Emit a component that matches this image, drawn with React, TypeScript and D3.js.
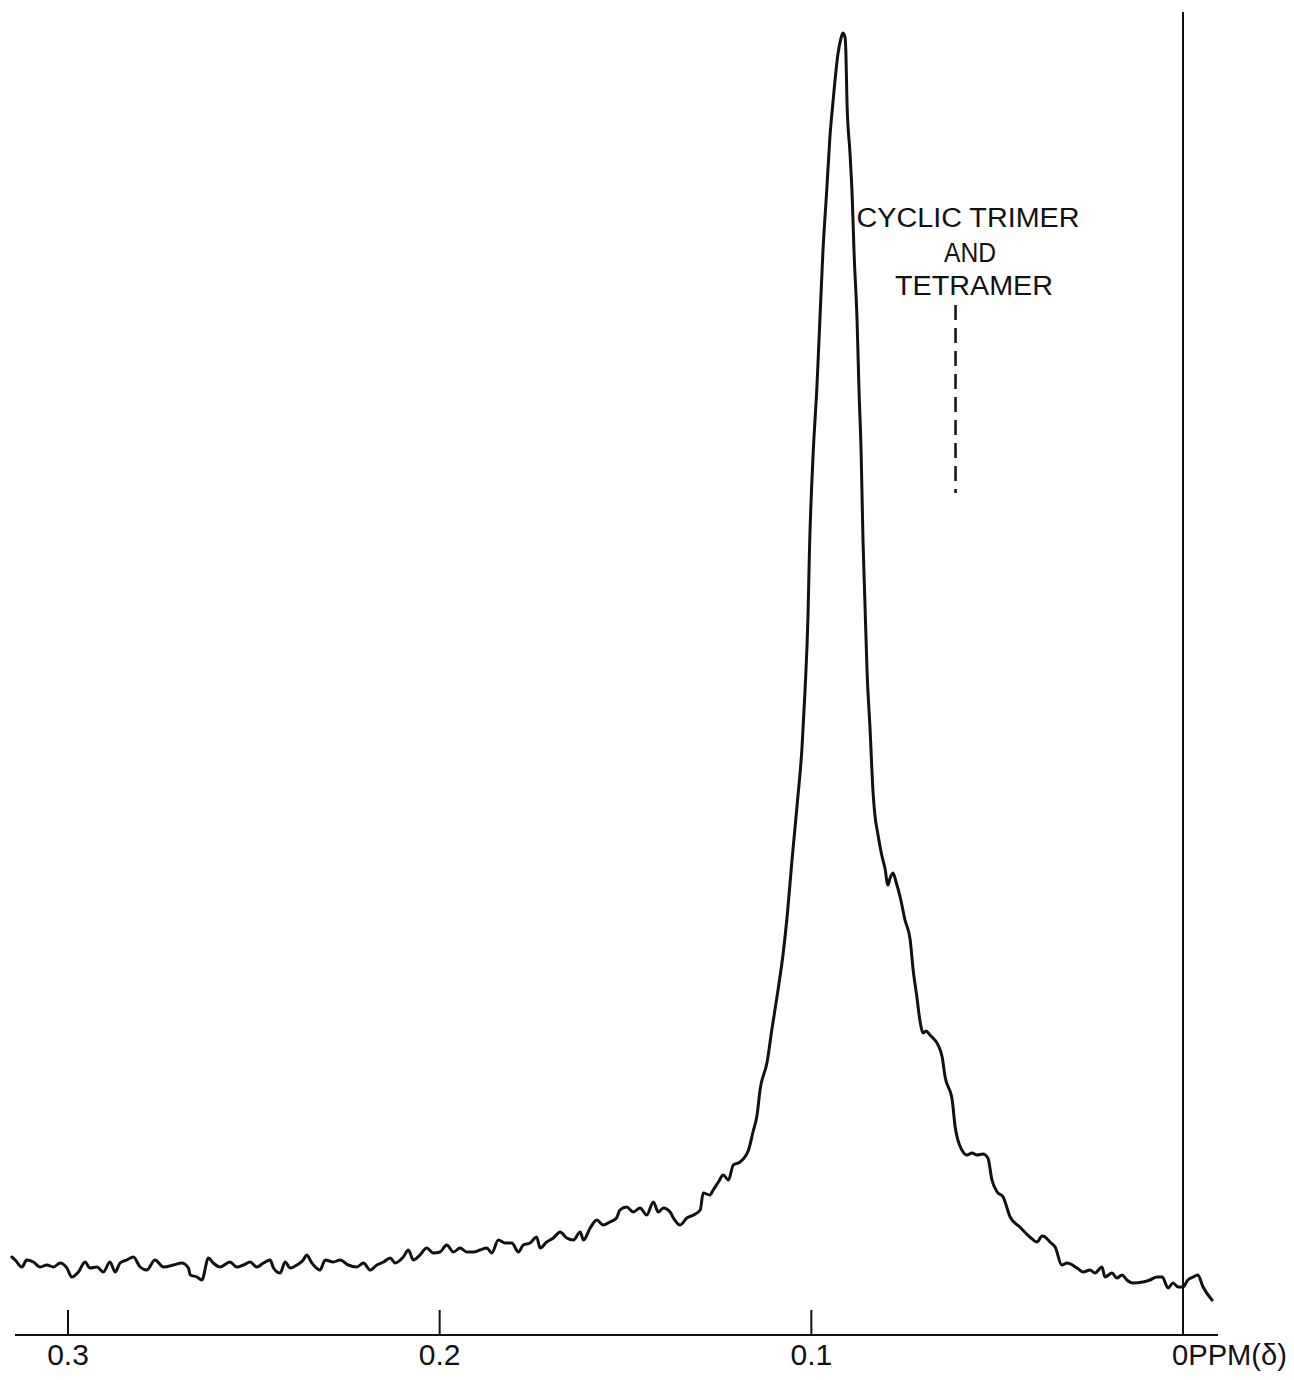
import React from "react";
import * as d3 from "d3";

// Chemical shift (ppm, δ) of each recorded point, read left to right
const shiftPpm = [
  0.3151, 0.3142, 0.3124, 0.3111, 0.3093, 0.3075, 0.3057, 0.3039, 0.3021, 0.3003,
  0.2990, 0.2972, 0.2954, 0.2941, 0.2922, 0.2905, 0.2887, 0.2873, 0.2860, 0.2842,
  0.2824, 0.2806, 0.2788, 0.2766, 0.2743, 0.2716, 0.2694, 0.2676, 0.2671, 0.2653,
  0.2640, 0.2622, 0.2609, 0.2591, 0.2564, 0.2546, 0.2528, 0.2510, 0.2492, 0.2474,
  0.2456, 0.2447, 0.2429, 0.2416, 0.2402, 0.2384, 0.2367, 0.2358, 0.2344, 0.2322,
  0.2308, 0.2286, 0.2268, 0.2246, 0.2223, 0.2205, 0.2187, 0.2169, 0.2151, 0.2133,
  0.2120, 0.2098, 0.2084, 0.2071, 0.2053, 0.2035, 0.2017, 0.1999,
  0.1981, 0.1963, 0.1945, 0.1927, 0.1909, 0.1891, 0.1873, 0.1860, 0.1842, 0.1824,
  0.1806, 0.1788, 0.1775, 0.1757, 0.1739, 0.1730, 0.1712, 0.1694, 0.1676, 0.1658,
  0.1640, 0.1622, 0.1613, 0.1595, 0.1577, 0.1560, 0.1542, 0.1524, 0.1515, 0.1497,
  0.1479, 0.1461, 0.1443, 0.1425, 0.1412, 0.1398, 0.1380, 0.1371, 0.1353, 0.1335,
  0.1317, 0.1299, 0.1291, 0.1273, 0.1264, 0.1250, 0.1237, 0.1223, 0.1210, 0.1192,
  0.1169,
  0.1157, 0.1146, 0.1138, 0.1119, 0.1106, 0.1090, 0.1076, 0.1065, 0.1052, 0.1038,
  0.1025, 0.1017, 0.1009, 0.1005, 0.0995, 0.0985, 0.0977, 0.0969, 0.0958, 0.0950,
  0.0942, 0.0928, 0.0920, 0.0915, 0.0909, 0.0907, 0.0904, 0.0896, 0.0890, 0.0885,
  0.0877, 0.0872, 0.0866, 0.0861, 0.0856, 0.0850, 0.0842, 0.0834, 0.0829, 0.0821,
  0.0810, 0.0802, 0.0794, 0.0788, 0.0780, 0.0772, 0.0761, 0.0748, 0.0734, 0.0726,
  0.0716, 0.0708, 0.0699, 0.0691, 0.0681, 0.0659, 0.0648, 0.0640, 0.0621, 0.0613,
  0.0595, 0.0581, 0.0568, 0.0554, 0.0538, 0.0525, 0.0514, 0.0500, 0.0484, 0.0465,
  0.0439, 0.0412, 0.0393, 0.0379, 0.0371, 0.0358, 0.0344, 0.0326, 0.0312, 0.0285,
  0.0269, 0.0250, 0.0237, 0.0218, 0.0210, 0.0191, 0.0178, 0.0164, 0.0151, 0.0135,
  0.0108, 0.0089, 0.0070, 0.0056, 0.0040, 0.0027, 0.0013, 0.0000, -0.0013, -0.0027,
  -0.0040, -0.0054, -0.0078,
];

// Signal intensity (arbitrary recorder units) at each shift above
const intensity = [
  7.8, 7.5, 6.8, 7.5, 7.3, 6.8, 7.0, 6.8, 7.2, 6.7,
  5.8, 6.3, 7.3, 6.7, 6.8, 6.3, 7.3, 6.3, 7.2, 7.5,
  7.8, 6.8, 6.5, 7.5, 6.8, 7.0, 7.2, 6.7, 6.0, 5.8,
  5.5, 7.7, 7.2, 6.8, 7.3, 6.8, 7.0, 7.3, 6.8, 7.2,
  7.5, 6.7, 6.2, 7.3, 6.7, 7.0, 7.5, 8.0, 7.2, 6.5,
  7.5, 7.3, 7.5, 7.0, 6.8, 7.2, 6.5, 7.0, 7.3, 7.7,
  7.2, 7.8, 8.5, 7.5, 8.0, 8.7, 8.2, 8.3,
  9.0, 8.3, 8.7, 8.3, 8.3, 8.5, 8.7, 8.2, 9.5, 9.2,
  9.2, 8.3, 9.0, 9.2, 9.8, 8.7, 9.3, 9.7, 10.3, 9.7,
  9.5, 10.3, 9.5, 10.7, 11.5, 11.0, 11.3, 11.7, 12.5, 12.8,
  12.3, 12.7, 12.0, 13.3, 12.3, 12.7, 12.3, 11.7, 11.0, 11.7,
  12.0, 12.5, 14.2, 14.0, 14.5, 15.3, 16.0, 15.5, 17.0, 17.3,
  18.5,
  20.3, 22.0, 24.5, 27.3, 30.6, 34.4, 38.1, 41.9, 47.5, 53.1,
  58.8, 64.4, 71.9, 78.5, 88.2, 94.8, 101.5, 108.2, 114.8, 119.8,
  123.2, 128.2, 129.7, 130.2, 129.7, 128.2, 123.2, 118.2, 113.8, 108.2,
  101.5, 94.8, 88.2, 79.5, 73.5, 66.3, 60.6, 54.3, 52.0, 50.1,
  47.9, 46.7, 45.0, 45.7, 46.2, 45.3, 43.8, 41.5, 39.5, 36.5,
  33.8, 31.5, 30.2, 30.4, 30.0, 29.0, 27.8, 25.8, 23.5, 20.8,
  18.5, 18.0, 18.2, 18.0, 18.1, 17.7, 15.5, 14.3, 13.8, 11.8,
  10.8, 9.8, 9.3, 9.9, 9.8, 9.3, 8.8, 7.0, 7.2, 6.7,
  6.3, 6.5, 6.2, 6.8, 5.8, 6.2, 5.7, 6.0, 5.5, 5.2,
  5.3, 5.5, 5.8, 5.8, 4.7, 5.2, 4.8, 4.8, 5.5, 5.8,
  6.0, 4.8, 3.5,
];

const tickValues = [0.3, 0.2, 0.1];
const tickLabels = ["0.3", "0.2", "0.1"];
const zeroLabel = "0PPM(δ)";
const annotationLines = ["CYCLIC TRIMER", "AND", "TETRAMER"];
const annotationShift = 0.0612;

const WIDTH = 1294;
const HEIGHT = 1380;
const AXIS_Y = 1335;

export default function App() {
  const x = d3.scaleLinear().domain([0.3, 0]).range([68, 1183]);
  const y = d3.scaleLinear().domain([0, 130.2]).range([AXIS_Y, 33]);

  const points = shiftPpm.map((s, i) => [s, intensity[i]] as [number, number]);
  const line = d3
    .line<[number, number]>()
    .x((d) => x(d[0]))
    .y((d) => y(d[1]))
    .curve(d3.curveMonotoneX);

  const font = "'Liberation Sans', Arial, sans-serif";
  const annX = x(annotationShift);

  return (
    <svg
      width={WIDTH}
      height={HEIGHT}
      style={{ position: "absolute", left: 0, top: 0, background: "#fff" }}
    >
      <rect width={WIDTH} height={HEIGHT} fill="#fff" />

      {/* baseline axis */}
      <line x1={15} x2={1218} y1={AXIS_Y} y2={AXIS_Y} stroke="#111" strokeWidth={2} />
      {tickValues.map((v, i) => (
        <g key={v}>
          <line x1={x(v)} x2={x(v)} y1={AXIS_Y - 25} y2={AXIS_Y} stroke="#111" strokeWidth={2} />
          <text
            x={x(v)}
            y={1365}
            textAnchor="middle"
            fontFamily={font}
            fontSize={30}
            fill="#111"
          >
            {tickLabels[i]}
          </text>
        </g>
      ))}

      {/* reference line at 0 ppm */}
      <line x1={x(0)} x2={x(0)} y1={12} y2={AXIS_Y} stroke="#111" strokeWidth={2} />
      <text
        x={x(0) - 11}
        y={1365}
        fontFamily={font}
        fontSize={30}
        fill="#111"
        textLength={115}
        lengthAdjust="spacingAndGlyphs"
      >
        {zeroLabel}
      </text>

      {/* spectrum trace */}
      <path
        d={line(points) ?? ""}
        fill="none"
        stroke="#111"
        strokeWidth={3}
        strokeLinejoin="round"
        strokeLinecap="round"
      />

      {/* peak assignment */}
      <text x={968} y={227} textAnchor="middle" fontFamily={font} fontSize={27} fill="#111"
        textLength={223} lengthAdjust="spacingAndGlyphs">
        {annotationLines[0]}
      </text>
      <text x={970} y={262} textAnchor="middle" fontFamily={font} fontSize={27} fill="#111"
        textLength={52} lengthAdjust="spacingAndGlyphs">
        {annotationLines[1]}
      </text>
      <text x={974} y={295} textAnchor="middle" fontFamily={font} fontSize={27} fill="#111"
        textLength={158} lengthAdjust="spacingAndGlyphs">
        {annotationLines[2]}
      </text>
      <line
        x1={annX}
        x2={annX}
        y1={305}
        y2={493}
        stroke="#111"
        strokeWidth={2.5}
        strokeDasharray="15 8"
      />
    </svg>
  );
}
